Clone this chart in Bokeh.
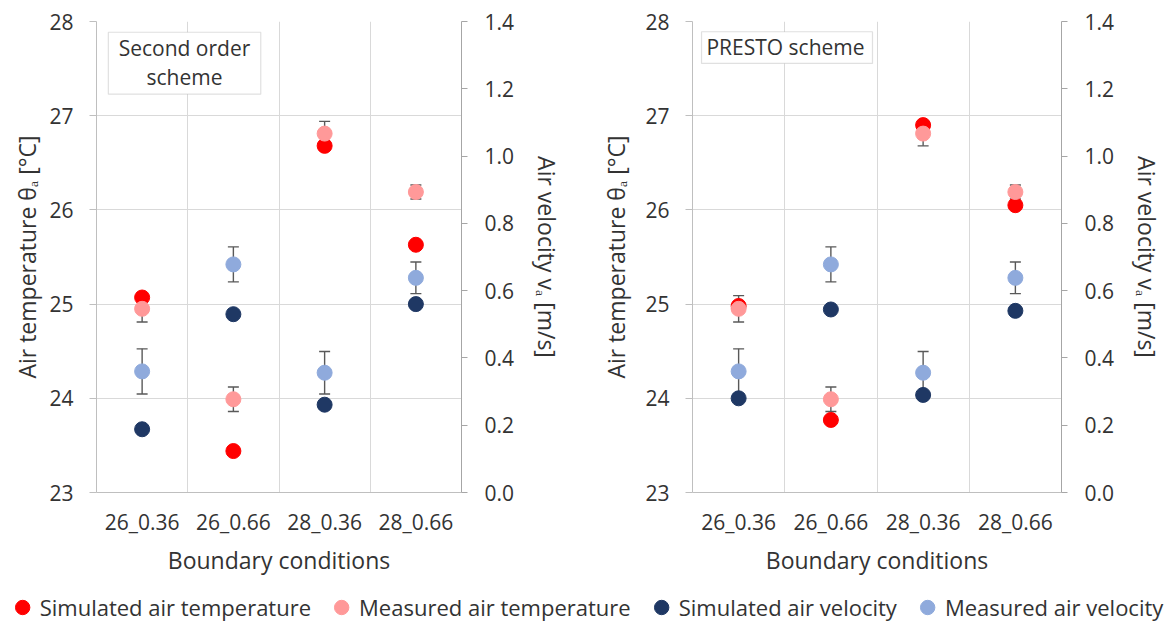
from bokeh.plotting import figure
from bokeh.models import (Range1d, FactorRange, LinearAxis, FixedTicker, NumeralTickFormatter,
                          ColumnDataSource, Whisker, TeeHead, BoxAnnotation, Label, Legend, LegendItem)
from bokeh.core.properties import value
from bokeh.layouts import column, row
from bokeh.embed import file_html
from bokeh.resources import INLINE

# ---------------- data ----------------
categories = ["26_0.36", "26_0.66", "28_0.36", "28_0.66"]

meas_temp = [24.95, 23.99, 26.81, 26.19]
meas_temp_err = [0.14, 0.13, 0.13, 0.075]
meas_vel = [0.360, 0.678, 0.356, 0.638]
meas_vel_err = [0.067, 0.052, 0.063, 0.047]

second_sim_temp = [25.07, 23.44, 26.68, 25.63]
second_sim_vel = [0.188, 0.530, 0.261, 0.560]

presto_sim_temp = [24.98, 23.77, 26.90, 26.05]
presto_sim_vel = [0.280, 0.544, 0.290, 0.540]

temp_ticks = [23, 24, 25, 26, 27, 28]
vel_ticks = [0.0, 0.2, 0.4, 0.6, 0.8, 1.0, 1.2, 1.4]
boundary_ticks = [0, 1, 2, 3, 4]

series_names = ["Simulated air temperature", "Measured air temperature",
                "Simulated air velocity", "Measured air velocity"]
series_colors = ["#FF0000", "#FF9999", "#1F3864", "#8FAADC"]

FONT = "Open Sans"
TXT = "#333333"
GRID = "#d9d9d9"
AXIS = "#bfbfbf"
RAXIS = "#a6a6a6"


def make_panel(sim_temp, sim_vel, box_lines, box, width, height, mb, ylabel_standoff):
    p = figure(x_range=FactorRange(*categories), y_range=Range1d(temp_ticks[0], temp_ticks[-1]),
               width=width, height=height, output_backend="svg", toolbar_location=None,
               min_border_left=mb[0], min_border_right=mb[1], min_border_top=mb[2],
               min_border_bottom=mb[3], background_fill_color="white", border_fill_color="white")
    p.outline_line_color = None
    p.extra_y_ranges = {"v": Range1d(vel_ticks[0], vel_ticks[-1])}

    # grids
    p.xgrid.ticker = FixedTicker(ticks=boundary_ticks)
    p.ygrid.ticker = FixedTicker(ticks=temp_ticks)
    for g in (p.xgrid, p.ygrid):
        g.grid_line_color = GRID
        g.grid_line_width = 1

    # x axis
    xa = p.xaxis[0]
    xa.axis_label = "Boundary conditions"
    xa.axis_line_color = AXIS
    xa.major_tick_line_color = None
    xa.major_tick_out = 0
    xa.major_tick_in = 0
    xa.major_label_standoff = 15
    xa.axis_label_standoff = 5

    # left axis
    ya = p.yaxis[0]
    ya.axis_label = "Air temperature θₐ [°C]"
    ya.ticker = FixedTicker(ticks=temp_ticks)
    ya.axis_line_color = AXIS
    ya.major_tick_line_color = AXIS
    ya.major_tick_out = 7
    ya.major_tick_in = 0
    ya.minor_tick_line_color = None
    ya.major_label_standoff = 16
    ya.axis_label_standoff = ylabel_standoff

    # right axis
    ra = LinearAxis(y_range_name="v", axis_label="Air velocity vₐ [m/s]",
                    ticker=FixedTicker(ticks=vel_ticks), formatter=NumeralTickFormatter(format="0.0"))
    ra.axis_line_color = RAXIS
    ra.major_tick_line_color = RAXIS
    ra.major_tick_out = 6
    ra.major_tick_in = 0
    ra.minor_tick_line_color = None
    ra.major_label_standoff = 17
    ra.axis_label_standoff = 14
    p.add_layout(ra, "right")

    for ax in (xa, ya, ra):
        ax.major_label_text_font = FONT
        ax.major_label_text_font_size = "21px"
        ax.major_label_text_color = TXT
        ax.axis_label_text_font = FONT
        ax.axis_label_text_font_size = "23px"
        ax.axis_label_text_font_style = "normal"
        ax.axis_label_text_color = TXT

    # error bars
    t_src = ColumnDataSource(dict(cat=categories,
                                  lo=[m - e for m, e in zip(meas_temp, meas_temp_err)],
                                  hi=[m + e for m, e in zip(meas_temp, meas_temp_err)]))
    v_src = ColumnDataSource(dict(cat=categories,
                                  lo=[m - e for m, e in zip(meas_vel, meas_vel_err)],
                                  hi=[m + e for m, e in zip(meas_vel, meas_vel_err)]))
    for src, rn in ((t_src, "default"), (v_src, "v")):
        w = Whisker(base="cat", lower="lo", upper="hi", source=src, dimension="height",
                    y_range_name=rn, line_color="#595959", line_width=1.4,
                    upper_head=TeeHead(size=11, line_color="#595959", line_width=1.4),
                    lower_head=TeeHead(size=11, line_color="#595959", line_width=1.4))
        p.add_layout(w)

    # points (Excel series order)
    p.scatter(x=categories, y=sim_temp, size=15, color=series_colors[0])
    p.scatter(x=categories, y=meas_temp, size=15, color=series_colors[1])
    p.scatter(x=categories, y=sim_vel, size=15, color=series_colors[2], y_range_name="v")
    p.scatter(x=categories, y=meas_vel, size=15, color=series_colors[3], y_range_name="v")

    # text box
    left, right, top, bottom, xc, ys = box
    p.add_layout(BoxAnnotation(left=left, right=right, top=top, bottom=bottom,
                               fill_color="white", fill_alpha=1, line_color="#999999",
                               line_width=1.2))
    for txt, yy in zip(box_lines, ys):
        p.add_layout(Label(x=xc, y=yy, text=txt, text_align="center", text_baseline="middle",
                           text_font=FONT, text_font_size="21px", text_color=TXT))
    return p


p1 = make_panel(second_sim_temp, second_sim_vel, ["Second order", "scheme"],
                (0.13, 1.80, 27.886, 27.229, 0.964, [27.721, 27.414]),
                579, 578, (96, 118, 21, 86), 3)
p2 = make_panel(presto_sim_temp, presto_sim_vel, ["PRESTO scheme"],
                (0.098, 1.951, 27.891, 27.555, 1.008, [27.725]),
                588, 578, (113, 106, 21, 86), 10)

# legend strip: the same series, kept outside the visible y window, so only the legend shows
lg = figure(width=1167, height=47, x_range=FactorRange(*categories), y_range=Range1d(-10, -9),
            output_backend="svg", toolbar_location=None, min_border=0,
            x_axis_location=None, y_axis_location=None)
lg.grid.visible = False
lg.outline_line_color = None
lg_series = [second_sim_temp, meas_temp, second_sim_vel, meas_vel]
items = []
for name, col, ys in zip(series_names, series_colors, lg_series):
    r = lg.scatter(x=categories, y=ys, size=15, color=col)
    items.append(LegendItem(label=value(name), renderers=[r]))
legend = Legend(items=items, orientation="horizontal", location="bottom_center",
                glyph_width=36, glyph_height=36, label_standoff=0, spacing=12, padding=0,
                margin=0, border_line_color=None, background_fill_alpha=0,
                label_text_font=FONT, label_text_font_size="22px", label_text_color=TXT)
lg.add_layout(legend, "center")

layout = column(row(p1, p2), lg)
open("out.html", "w").write(file_html(layout, INLINE))
